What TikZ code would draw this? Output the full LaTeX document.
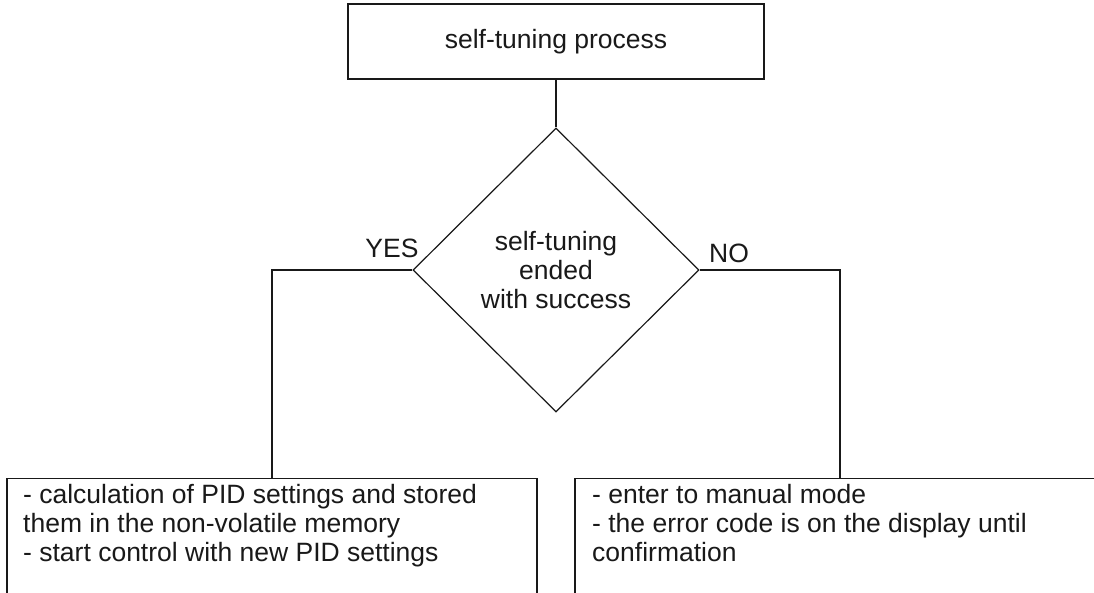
\documentclass[tikz,border=0pt]{standalone}
\usepackage{fontspec}
\setmainfont{Liberation Sans}
\usetikzlibrary{shapes.geometric}
\begin{document}
\begin{tikzpicture}[x=1pt,y=-1pt,
  every node/.style={font=\fontsize{26.5}{29}\selectfont, text=black!90},
  boxline/.style={draw=black!90, line width=1.2pt},
  procbox/.style={boxline, rectangle, minimum width=416pt, minimum height=75pt, inner sep=0pt},
  decision/.style={boxline, diamond, minimum width=286pt, minimum height=284pt, inner sep=0pt, align=center},
  resbox/.style={boxline, rectangle, minimum width=530pt, minimum height=160pt, inner sep=0pt, anchor=north},
  restext/.style={anchor=north west, align=left, inner sep=0pt},
  conn/.style={draw=black!90, line width=1.2pt},
  lbl/.style={inner sep=0pt}]
\useasboundingbox (0,0) rectangle (1094,593);
\clip (0,0) rectangle (1094,593);
\fill[white] (0,0) rectangle (1094,593);
\node[procbox] (top) at (556,41.5) {self-tuning process};
\node[decision] (dec) at (556,270) {self-tuning\\ended\\with success};
\node[resbox] (lbox) at (272,478) {};
\node[resbox] (rbox) at (840,478) {};
\node[restext] (ltext) at (23,484) {- calculation of PID settings and stored\\them in the non-volatile memory\\- start control with new PID settings};
\node[restext] (rtext) at (592,484) {- enter to manual mode\\- the error code is on the display until\\confirmation};
\node[lbl] (yes) at (392,248) {YES};
\node[lbl] (no) at (729,253) {NO};
\draw[conn] (top.south) -- (dec.north);
\draw[conn] (dec.west) -| (lbox.north);
\draw[conn] (dec.east) -| (rbox.north);
\end{tikzpicture}
\end{document}
